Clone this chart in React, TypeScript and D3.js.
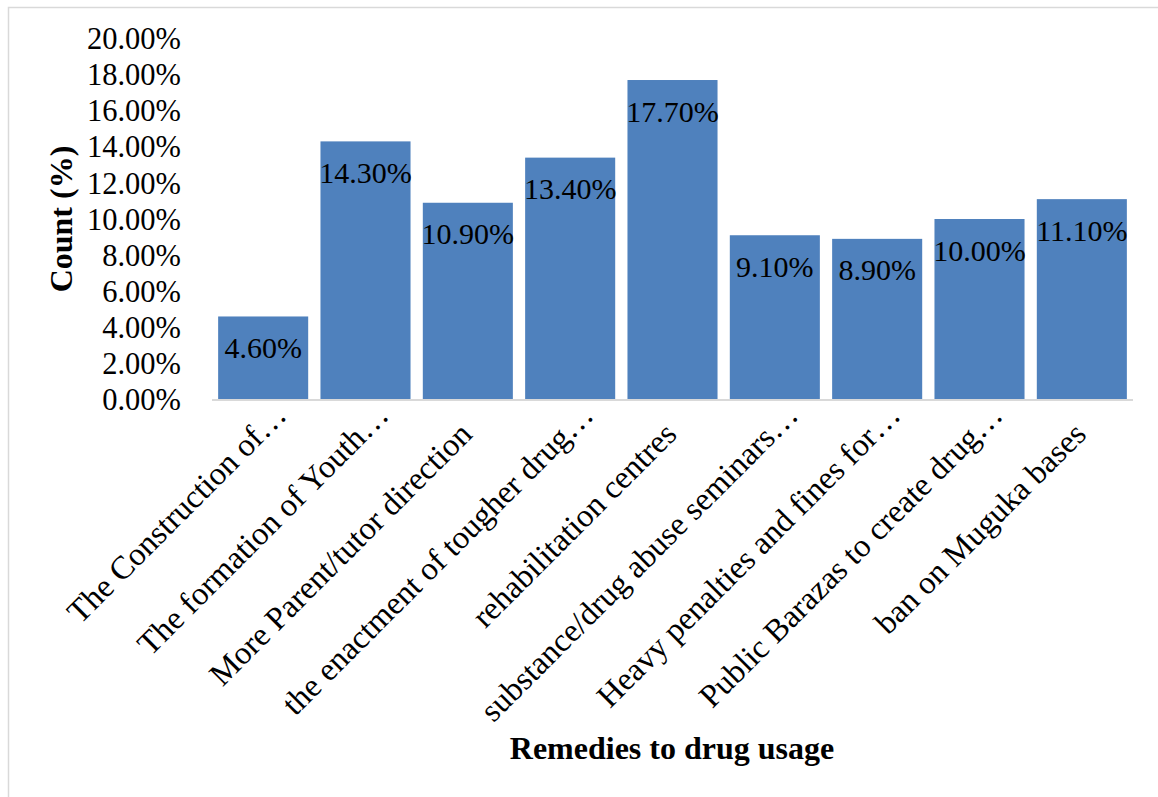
import React from "react";
import * as d3 from "d3";

const categories = [
  "The Construction of…",
  "The formation of Youth…",
  "More Parent/tutor direction",
  "the enactment of tougher drug…",
  "rehabilitation centres",
  "substance/drug abuse seminars…",
  "Heavy penalties and fines for…",
  "Public Barazas to create drug…",
  "ban on Muguka bases",
];
const values = [4.6, 14.3, 10.9, 13.4, 17.7, 9.1, 8.9, 10.0, 11.1];
const yTicks = [0, 2, 4, 6, 8, 10, 12, 14, 16, 18, 20];
const xTitle = "Remedies to drug usage";
const yTitle = "Count (%)";

const W = 1158;
const H = 797;
const FONT = "'Liberation Serif', 'Times New Roman', serif";

export default function App() {
  const x = d3
    .scaleBand<string>()
    .domain(categories)
    .range([212, 1133])
    .paddingInner(0.12)
    .paddingOuter(0.06);
  const y = d3.scaleLinear().domain([0, 20]).range([399.5, 38.5]);
  const fmt = (v: number) => v.toFixed(2) + "%";

  return (
    <svg
      width={W}
      height={H}
      style={{ position: "absolute", left: 0, top: 0, background: "#fff" }}
      fontFamily={FONT}
    >
      <rect x={8.5} y={7.5} width={1160} height={800} fill="#fff" stroke="#D9D9D9" strokeWidth={1.5} />
      {yTicks.map((t) => (
        <text
          key={t}
          x={181}
          y={y(t)}
          dy="0.35em"
          textAnchor="end"
          fontSize={30.5}
          fill="#000"
        >
          {fmt(t)}
        </text>
      ))}
      {categories.map((c, i) => (
        <rect
          key={c}
          x={x(c)!}
          y={y(values[i])}
          width={x.bandwidth()}
          height={y(0) - y(values[i])}
          fill="#4F81BD"
        />
      ))}
      <line x1={212} x2={1133} y1={400} y2={400} stroke="#D9D9D9" strokeWidth={2} />
      {categories.map((c, i) => (
        <text
          key={"v" + c}
          x={x(c)! + x.bandwidth() / 2}
          y={y(values[i]) + 31}
          dy="0.35em"
          textAnchor="middle"
          fontSize={30}
          fill="#000"
        >
          {fmt(values[i])}
        </text>
      ))}
      {categories.map((c) => {
        const cx = x(c)! + x.bandwidth() / 2 + 6;
        const cy = 436;
        const extra = c.endsWith("…") ? 27 : 0;
        return (
          <text
            key={"l" + c}
            transform={`translate(${cx},${cy}) rotate(-45)`}
            x={extra}
            textAnchor="end"
            fontSize={32.5}
            fill="#000"
          >
            {c}
          </text>
        );
      })}
      <text
        x={672}
        y={759}
        textAnchor="middle"
        fontSize={32}
        fontWeight="bold"
        fill="#000"
      >
        {xTitle}
      </text>
      <text
        transform={`translate(72,219) rotate(-90)`}
        textAnchor="middle"
        fontSize={32}
        fontWeight="bold"
        fill="#000"
      >
        {yTitle}
      </text>
    </svg>
  );
}
